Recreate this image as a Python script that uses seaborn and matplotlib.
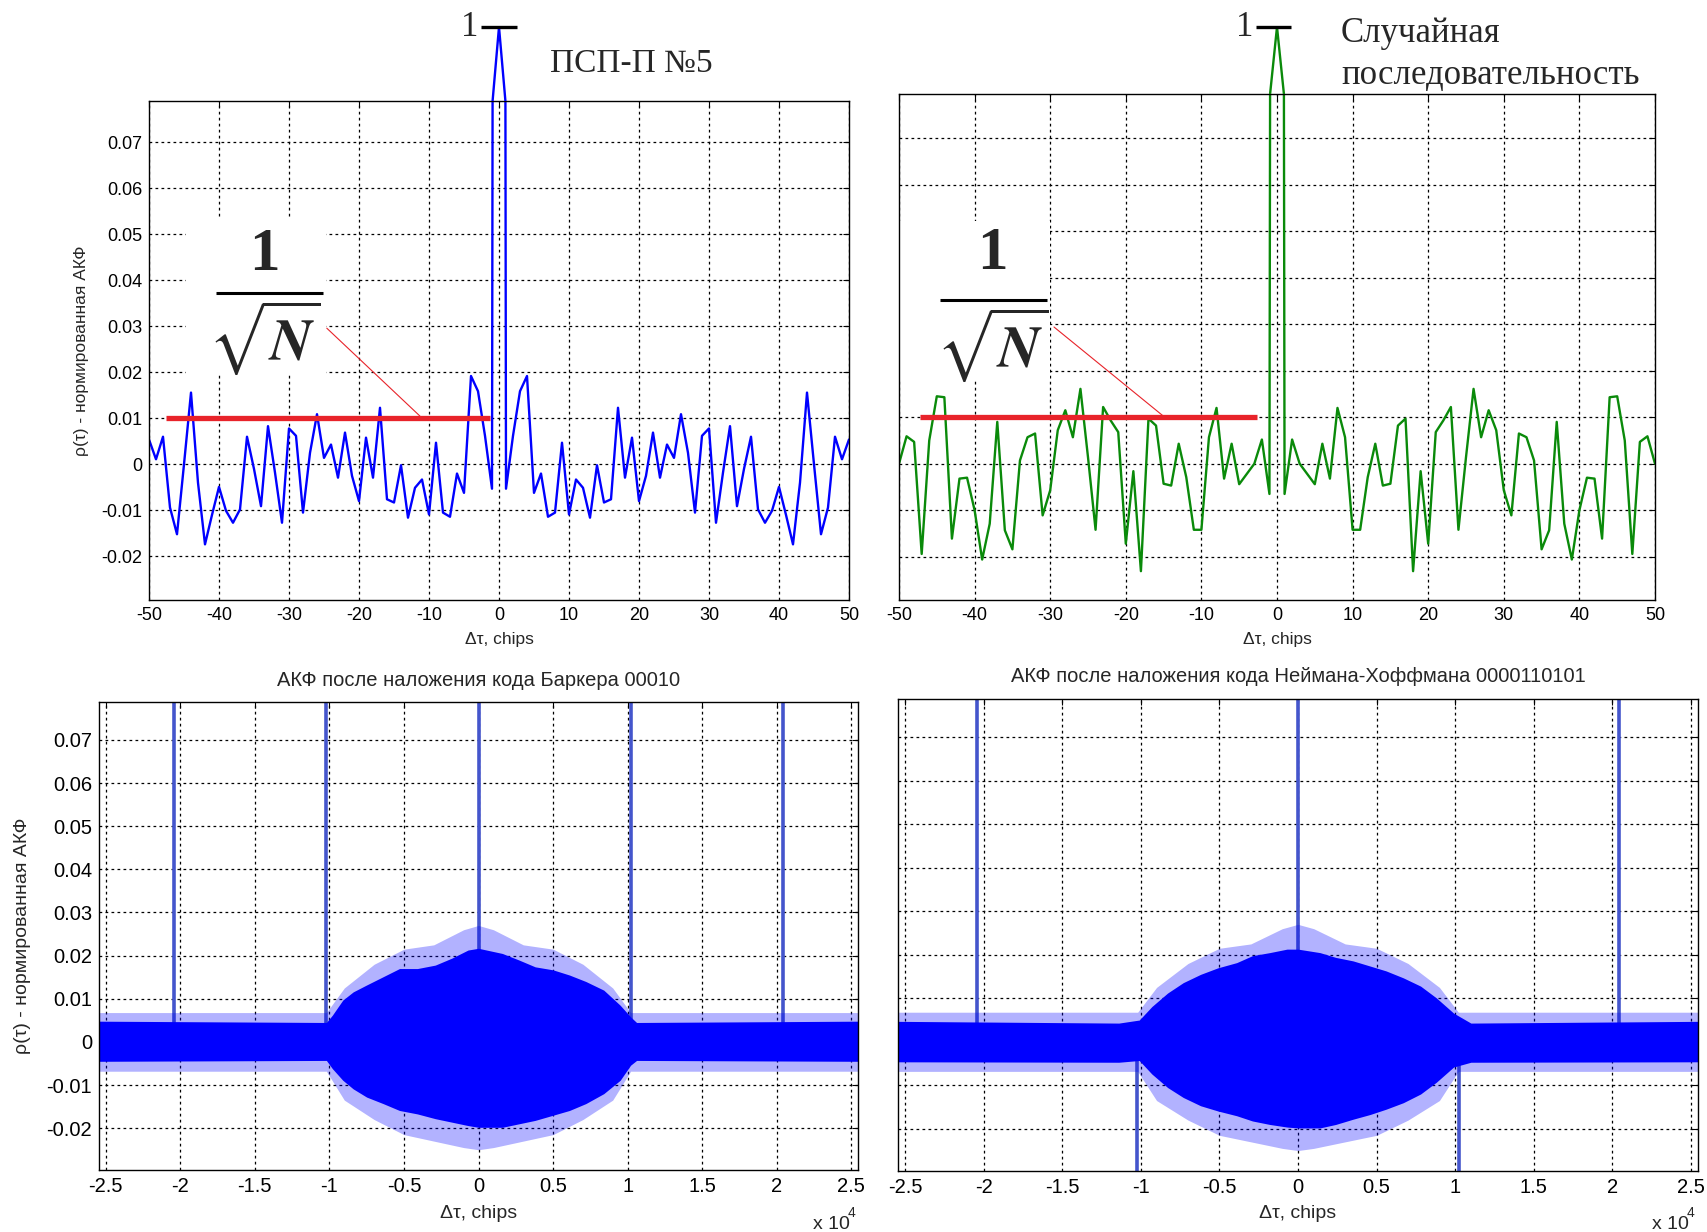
import matplotlib
matplotlib.use("Agg")
import matplotlib.pyplot as plt
import seaborn as sns
from matplotlib.patches import Rectangle

# --- верхние графики: нормированная АКФ, сдвиг -50..50 чипов
LAGS = list(range(-50, 51))

PSP_ACF = [0.0054, 0.0011, 0.0060, -0.0094, -0.0152, 0.0000, 0.0156, -0.0040, -0.0174, -0.0110,
           -0.0049, -0.0101, -0.0127, -0.0098, 0.0060, -0.0010, -0.0091, 0.0083, -0.0018, -0.0127,
           0.0078, 0.0062, -0.0105, 0.0025, 0.0109, 0.0014, 0.0043, -0.0029, 0.0069, -0.0025,
           -0.0080, 0.0058, -0.0029, 0.0123, -0.0076, -0.0083, -0.0002, -0.0116, -0.0051, -0.0033,
           -0.0109, 0.0047, -0.0105, -0.0114, -0.0020, -0.0062, 0.0192, 0.0159, 0.0062, -0.0053,
           1.0,
           -0.0053, 0.0062, 0.0159, 0.0192, -0.0062, -0.0020, -0.0114, -0.0105, 0.0047, -0.0109,
           -0.0033, -0.0051, -0.0116, -0.0002, -0.0083, -0.0076, 0.0123, -0.0029, 0.0058, -0.0080,
           -0.0025, 0.0069, -0.0029, 0.0043, 0.0014, 0.0109, 0.0025, -0.0105, 0.0062, 0.0078,
           -0.0127, -0.0018, 0.0083, -0.0091, -0.0010, 0.0060, -0.0098, -0.0127, -0.0101, -0.0049,
           -0.0110, -0.0174, -0.0040, 0.0156, 0.0000, -0.0152, -0.0094, 0.0060, 0.0011, 0.0054]

RANDOM_ACF = [0.0000, 0.0059, 0.0047, -0.0194, 0.0050, 0.0145, 0.0143, -0.0161, -0.0032, -0.0030,
              -0.0100, -0.0206, -0.0129, 0.0090, -0.0143, -0.0184, 0.0007, 0.0057, 0.0065, -0.0111,
              -0.0057, 0.0072, 0.0115, 0.0057, 0.0161, 0.0014, -0.0142, 0.0122, 0.0093, 0.0068,
              -0.0172, -0.0016, -0.0231, 0.0097, 0.0082, -0.0043, -0.0047, 0.0043, -0.0029, -0.0142,
              -0.0142, 0.0057, 0.0120, -0.0032, 0.0043, -0.0044, -0.0022, 0.0000, 0.0052, -0.0065,
              1.0,
              -0.0065, 0.0052, 0.0000, -0.0022, -0.0044, 0.0043, -0.0032, 0.0120, 0.0057, -0.0142,
              -0.0142, -0.0029, 0.0043, -0.0047, -0.0043, 0.0082, 0.0097, -0.0231, -0.0016, -0.0172,
              0.0068, 0.0093, 0.0122, -0.0142, 0.0014, 0.0161, 0.0057, 0.0115, 0.0072, -0.0057,
              -0.0111, 0.0065, 0.0057, 0.0007, -0.0184, -0.0143, 0.0090, -0.0129, -0.0206, -0.0100,
              -0.0030, -0.0032, -0.0161, 0.0143, 0.0145, 0.0050, -0.0194, 0.0047, 0.0059, 0.0000]

THRESHOLD = 0.01  # 1/sqrt(N)

# --- нижние графики: огибающая плотного шума (чипы)
BARKER_X = [-25450, -10200, -9800, -9100, -8400, -7500, -6400, -5300, -4100, -2900, -1800, -700, 0,
            1600, 2700, 3800, 5000, 6100, 7200, 8400, 9500, 10200, 10600, 25450]
BARKER_HI = [0.0048, 0.0045, 0.0062, 0.0097, 0.0116, 0.0132, 0.0151, 0.0170, 0.0170, 0.0178, 0.0194,
             0.0213, 0.0217, 0.0205, 0.0190, 0.0174, 0.0167, 0.0155, 0.0140, 0.0120, 0.0085, 0.0058,
             0.0045, 0.0048]
BARKER_LO = [-0.0045, -0.0043, -0.0062, -0.0089, -0.0109, -0.0128, -0.0143, -0.0159, -0.0167, -0.0178,
             -0.0186, -0.0194, -0.0198, -0.0198, -0.0190, -0.0182, -0.0170, -0.0159, -0.0143, -0.0120,
             -0.0089, -0.0054, -0.0043, -0.0045]

NH_X = [-25450, -11400, -10100, -9300, -8300, -7300, -6200, -5100, -3900, -2900, -1800, -700, 0,
        1400, 2400, 3500, 4600, 5600, 6700, 7800, 8800, 9900, 11000, 25450]
NH_HI = [0.0047, 0.0043, 0.0050, 0.0081, 0.0112, 0.0136, 0.0155, 0.0170, 0.0182, 0.0198, 0.0205,
         0.0213, 0.0213, 0.0205, 0.0194, 0.0186, 0.0174, 0.0163, 0.0147, 0.0128, 0.0101, 0.0066,
         0.0043, 0.0047]
NH_LO = [-0.0046, -0.0047, -0.0043, -0.0074, -0.0105, -0.0128, -0.0147, -0.0159, -0.0170, -0.0182,
         -0.0190, -0.0196, -0.0198, -0.0198, -0.0190, -0.0178, -0.0167, -0.0155, -0.0140, -0.0120,
         -0.0093, -0.0058, -0.0047, -0.0046]

# выбросы шума (крайние значения)
PEAK_X = [-25450, -10200, -9000, -7000, -5000, -3000, -1000, 0, 1000, 3000, 5000, 7000, 9000, 10200, 25450]
PEAK_HI = [0.0068, 0.0068, 0.0125, 0.0180, 0.0215, 0.0225, 0.0260, 0.0270, 0.0260, 0.0225, 0.0215,
           0.0180, 0.0125, 0.0068, 0.0068]
PEAK_LO = [-0.0068, -0.0068, -0.0135, -0.0180, -0.0215, -0.0230, -0.0245, -0.0250, -0.0245, -0.0230,
           -0.0215, -0.0180, -0.0135, -0.0068, -0.0068]

BARKER_SPIKE_X = [-20440, -10220, 0, 10220, 20440]
BARKER_SPIKE_Y = [0.2, 0.2, 1.0, 0.2, 0.2]
NH_SPIKE_X = [-20440, -10220, 0, 10220, 20440]
NH_SPIKE_Y = [0.2, -0.1, 1.0, -0.1, 0.2]

Y_TICKS = [-0.02, -0.01, 0, 0.01, 0.02, 0.03, 0.04, 0.05, 0.06, 0.07]
Y_TICK_LABELS = ['-0.02', '-0.01', '0', '0.01', '0.02', '0.03', '0.04', '0.05', '0.06', '0.07']
TOP_X_TICKS = list(range(-50, 51, 10))
TOP_X_LABELS = [str(t) for t in TOP_X_TICKS]
BOT_X_TICKS = list(range(-25000, 25001, 5000))
BOT_X_LABELS = ['-2.5', '-2', '-1.5', '-1', '-0.5', '0', '0.5', '1', '1.5', '2', '2.5']

YLABEL = 'ρ(τ) - нормированная АКФ'
XLABEL = 'Δτ, chips'

sns.set_theme(style="white")
plt.rcParams['font.family'] = ['Liberation Sans', 'DejaVu Sans']
plt.rcParams['mathtext.fontset'] = 'stix'

W, H = 1707, 1232
fig = plt.figure(figsize=(W / 100, H / 100), dpi=100)


def px_axes(l, t, r, b):
    return fig.add_axes([l / W, 1 - b / H, (r - l) / W, (b - t) / H])


def style_axes(ax, xticks, xlabels, ylabels, fs):
    ax.set_yticks(Y_TICKS)
    ax.set_yticklabels(Y_TICK_LABELS if ylabels else [])
    ax.set_xticks(xticks)
    ax.set_xticklabels(xlabels)
    ax.grid(True, color='black', linestyle=(0, (2.2, 2.6)), linewidth=0.9)
    ax.tick_params(direction='in', length=4, width=0.8, top=True, right=True,
                   labelsize=fs, colors='black', pad=5)
    for s in ax.spines.values():
        s.set_visible(True)
        s.set_color('black')
        s.set_linewidth(1.0)


serif = ['Liberation Serif', 'DejaVu Serif']


def top_panel(box, ylim, series, color, red_span, frac, white_box, connector):
    l, t, r, b = box
    ax = px_axes(l, t, r, b)
    sns.lineplot(x=LAGS, y=series, ax=ax, color=color, linewidth=1.7, estimator=None, legend=False)
    ax.set_xlim(-50, 50)
    ax.set_ylim(*ylim)
    ax.add_patch(Rectangle((white_box[0], white_box[1]), white_box[2], white_box[3],
                           facecolor='white', edgecolor='none', zorder=1))
    ax.plot(red_span, [THRESHOLD, THRESHOLD], color='#e8232a', linewidth=3.8, zorder=3,
            solid_capstyle='butt')
    ax.plot(connector[0], connector[1], color='#e8232a', linewidth=0.8, zorder=3)
    fx, fy1, fbar, fbar_y, fy2 = frac
    ax.text(fx, fy1, '1', fontsize=44, fontweight='bold', family=serif, ha='center', va='center', zorder=4)
    ax.plot(fbar, [fbar_y, fbar_y], color='black', linewidth=2.2, zorder=4, solid_capstyle='butt')
    ax.text(fx, fy2, r'$\sqrt{\mathbfit{N}}$', fontsize=42, ha='center', va='center', zorder=4)

    # пик АКФ = 1 выходит за пределы осей
    ax_top = px_axes(l, 27, r, t)
    sns.lineplot(x=LAGS, y=series, ax=ax_top, color=color, linewidth=1.7, estimator=None, legend=False)
    ax_top.set_xlim(-50, 50)
    ax_top.set_ylim(ylim[1], 1.0)
    ax_top.axis('off')
    return ax, ax_top


ax1, ax1t = top_panel((149, 101, 849, 600), (-0.0295, 0.079), PSP_ACF, '#0000ff',
                      [-47.6, -1.3], (-33.5, 0.0455, [-40.5, -25.2], 0.0372, 0.0275),
                      (-44.7, 0.0196, 20.0, 0.034), ([-24.6, -11.3], [0.0296, 0.0105]))
style_axes(ax1, TOP_X_TICKS, TOP_X_LABELS, True, 13)
ax1.set_ylabel(YLABEL, fontsize=12.5, va='center')
ax1.yaxis.set_label_coords(-0.096, 0.5)
ax1.set_xlabel(XLABEL, fontsize=12.5, va='center')
ax1.xaxis.set_label_coords(0.5, -0.08)
ax1t.plot([-2.64, 2.53], [1, 1], color='black', linewidth=2.4, clip_on=False, solid_capstyle='butt')
ax1t.text(-2.9, 1.0, '1', ha='right', va='center', fontsize=25, family=serif)
fig.text(550 / W, 1 - 64 / H, 'ПСП-П №5', fontsize=24, family=serif, ha='left', va='center')

ax2, ax2t = top_panel((899, 94, 1655, 600), (-0.0293, 0.0795), RANDOM_ACF, '#0a8a0a',
                      [-47.2, -2.7], (-37.6, 0.045, [-44.6, -30.4], 0.0353, 0.0255),
                      (-50, 0.0183, 20.0, 0.034), ([-29.5, -15.0], [0.0294, 0.0102]))
style_axes(ax2, TOP_X_TICKS, TOP_X_LABELS, False, 13)
ax2.set_xlabel(XLABEL, fontsize=12.5, va='center')
ax2.xaxis.set_label_coords(0.5, -0.079)
ax2t.plot([-2.8, 1.85], [1, 1], color='black', linewidth=2.4, clip_on=False, solid_capstyle='butt')
ax2t.text(-3.1, 1.0, '1', ha='right', va='center', fontsize=25, family=serif)
fig.text(1341 / W, 1 - 42 / H, 'Случайная', fontsize=25, family=serif, ha='left', va='baseline')
fig.text(1341 / W, 1 - 84 / H, 'последовательность', fontsize=25, family=serif, ha='left', va='baseline')


def bottom_panel(box, env_x, hi, lo, spike_x, spike_y, title, ylabels):
    ax = px_axes(*box)
    ax.vlines(spike_x, 0, spike_y, color='#4455cc', linewidth=2.6, zorder=1.5)
    ax.fill_between(PEAK_X, PEAK_LO, PEAK_HI, color='#0000ff', alpha=0.3, linewidth=0, zorder=2)
    ax.fill_between(env_x, lo, hi, color='#0000ff', linewidth=0, zorder=2.2)
    ax.set_xlim(-25450, 25450)
    ax.set_ylim(-0.0297, 0.0788)
    style_axes(ax, BOT_X_TICKS, BOT_X_LABELS, ylabels, 14.5)
    ax.text(0.5, 1 + 22 / (box[3] - box[1]), title, transform=ax.transAxes, ha='center',
            va='center', fontsize=14.5)
    ax.set_xlabel(XLABEL, fontsize=14, va='center')
    ax.xaxis.set_label_coords(0.5, -(1213 - box[3]) / (box[3] - box[1]))
    return ax


ax3 = bottom_panel((99, 702, 858, 1170), BARKER_X, BARKER_HI, BARKER_LO, BARKER_SPIKE_X, BARKER_SPIKE_Y,
                   'АКФ после наложения кода Баркера 00010', True)
ax3.set_ylabel(YLABEL, fontsize=14, va='center')
ax3.yaxis.set_label_coords(-0.101, 0.5)
ax4 = bottom_panel((898, 699, 1698, 1171), NH_X, NH_HI, NH_LO, NH_SPIKE_X, NH_SPIKE_Y,
                   'АКФ после наложения кода Неймана-Хоффмана 0000110101', False)

for x0 in (813, 1652):
    fig.text(x0 / W, 1 - 1229 / H, 'x 10', fontsize=14, ha='left', va='baseline')
    fig.text((x0 + 35) / W, 1 - 1217 / H, '4', fontsize=10, ha='left', va='baseline')

fig.savefig('out.png', dpi=100)
